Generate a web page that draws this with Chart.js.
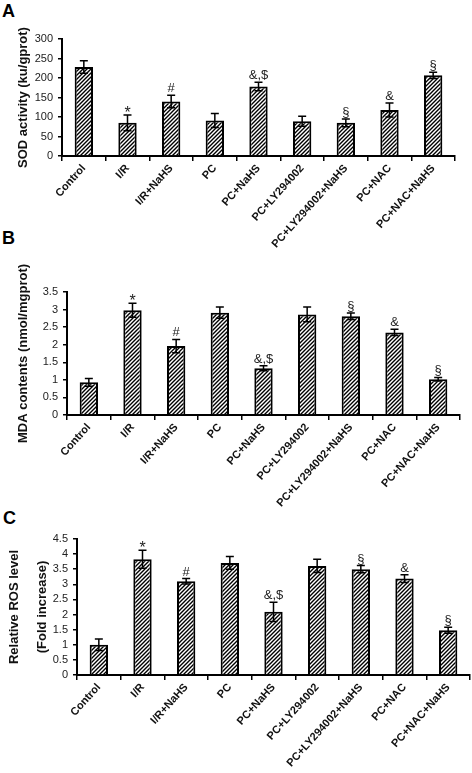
<!DOCTYPE html>
<html>
<head>
<meta charset="utf-8">
<script src="https://cdn.jsdelivr.net/npm/chart.js@4.4.1/dist/chart.umd.min.js"></script>
<style>
  html, body { margin: 0; padding: 0; background: #fff; }
  body { width: 472px; height: 773px; position: relative; overflow: hidden; font-family: "Liberation Sans", Arial, sans-serif; }
  .panel { position: absolute; left: 0; width: 472px; }
  .letter { position: absolute; font-weight: bold; font-size: 18px; line-height: 1; color: #000; }
</style>
</head>
<body>
<div class="letter" style="left:2px; top:2px;">A</div>
<div class="letter" style="left:2px; top:229px;">B</div>
<div class="letter" style="left:3px; top:509px;">C</div>
<div class="panel" style="top:0; height:255px;"><canvas id="cA"></canvas></div>
<div class="panel" style="top:255px; height:255px;"><canvas id="cB"></canvas></div>
<div class="panel" style="top:510px; height:263px;"><canvas id="cC"></canvas></div>
<script>
const categories = ["Control", "I/R", "I/R+NaHS", "PC", "PC+NaHS", "PC+LY294002", "PC+LY294002+NaHS", "PC+NAC", "PC+NAC+NaHS"];

const sodValues = [228, 85, 140, 91, 178, 89, 85, 118, 207];
const sodErrors = [16, 20, 16, 18, 11, 13, 10, 18, 8];
const sodMarks  = ["", "*", "#", "", "&,$", "", "§", "&", "§"];

const mdaValues = [0.93, 2.98, 1.96, 2.91, 1.33, 2.86, 2.81, 2.35, 1.02];
const mdaErrors = [0.11, 0.2, 0.19, 0.16, 0.07, 0.21, 0.09, 0.09, 0.05];
const mdaMarks  = ["", "*", "#", "", "&,$", "", "§", "&", "§"];

const rosValues = [1.0, 3.83, 3.1, 3.71, 2.09, 3.61, 3.5, 3.19, 1.48];
const rosErrors = [0.19, 0.3, 0.09, 0.21, 0.32, 0.22, 0.12, 0.13, 0.1];
const rosMarks  = ["", "*", "#", "", "&,$", "", "§", "&", "§"];

const FONT = "'Liberation Sans', Arial, sans-serif";

function makeHatch() {
  const s = 4;
  const c = document.createElement('canvas');
  c.width = s; c.height = s;
  const g = c.getContext('2d');
  g.fillStyle = '#fff';
  g.fillRect(0, 0, s, s);
  g.strokeStyle = '#000';
  g.lineWidth = 1.4;
  g.beginPath();
  g.moveTo(-1, s + 1); g.lineTo(s + 1, -1);
  g.moveTo(-1, 1); g.lineTo(1, -1);
  g.moveTo(s - 1, s + 1); g.lineTo(s + 1, s - 1);
  g.stroke();
  return g.createPattern(c, 'repeat');
}
const hatch = makeHatch();

const errPlugin = {
  id: 'errbars',
  afterDatasetsDraw(chart, args, opts) {
    const ctx = chart.ctx;
    const meta = chart.getDatasetMeta(0);
    const ys = chart.scales.y;
    const vals = chart.data.datasets[0].data;
    ctx.save();
    ctx.strokeStyle = '#000';
    ctx.lineWidth = 1.5;
    meta.data.forEach((bar, i) => {
      const v = vals[i], e = opts.errors[i];
      const x = bar.x;
      const yt = ys.getPixelForValue(v + e);
      const yb = ys.getPixelForValue(v - e);
      const cap = 4;
      ctx.beginPath();
      ctx.moveTo(x, yt); ctx.lineTo(x, yb);
      ctx.moveTo(x - cap, yt); ctx.lineTo(x + cap, yt);
      ctx.moveTo(x - cap, yb); ctx.lineTo(x + cap, yb);
      ctx.stroke();
      const m = opts.marks[i];
      if (m) {
        ctx.fillStyle = '#222';
        ctx.textAlign = 'center';
        ctx.textBaseline = 'alphabetic';
        ctx.font = (m === '*' ? '16px ' : '13px ') + FONT;
        ctx.fillText(m, x, yt - (m === '*' ? -3 : 3));
      }
    });
    ctx.restore();
  }
};

function makeChart(id, values, errors, marks, cfg) {
  return new Chart(document.getElementById(id), {
    type: 'bar',
    data: {
      labels: categories,
      datasets: [{
        data: values,
        backgroundColor: hatch,
        borderColor: '#000',
        borderWidth: 2,
        borderSkipped: 'bottom',
        barPercentage: 0.42,
        categoryPercentage: 1.0
      }]
    },
    options: {
      responsive: true,
      maintainAspectRatio: false,
      animation: false,
      events: [],
      layout: { padding: { top: cfg.padTop, right: cfg.padRight, left: 0, bottom: 0 } },
      plugins: {
        legend: { display: false },
        tooltip: { enabled: false },
        errbars: { errors: errors, marks: marks }
      },
      scales: {
        x: {
          offset: true,
          grid: { display: true, drawOnChartArea: false, drawTicks: true, tickLength: 5, color: '#000', lineWidth: 1.5, offset: true },
          border: { display: true, color: '#000', width: 2 },
          ticks: {
            autoSkip: false, minRotation: 48, maxRotation: 48, padding: 1,
            color: '#111', font: { family: FONT, size: 11, weight: 'bold' }
          },
          afterFit(scale) { scale.height = cfg.xHeight; }
        },
        y: {
          min: 0, max: cfg.max,
          grid: { display: true, drawOnChartArea: false, drawTicks: true, tickLength: 4, color: '#000', lineWidth: 1.5 },
          border: { display: true, color: '#000', width: 2 },
          ticks: {
            stepSize: cfg.step, autoSkip: false, padding: 5, color: '#222',
            font: { family: FONT, size: 11 },
            callback: (v) => String(Math.round(v * 100) / 100)
          },
          title: {
            display: true, text: cfg.title, color: '#111',
            font: { family: FONT, size: 13, weight: 'bold', lineHeight: cfg.titleLH || 1.2 },
            padding: { top: cfg.titlePad, bottom: 0 }
          },
          afterFit(scale) { scale.width = cfg.yWidth; }
        }
      }
    },
    plugins: [errPlugin]
  });
}

makeChart('cA', sodValues, sodErrors, sodMarks, {
  padTop: 39, padRight: 17, xHeight: 99, yWidth: 62, max: 300, step: 50,
  title: 'SOD activity (ku/gprot)', titlePad: 16
});
makeChart('cB', mdaValues, mdaErrors, mdaMarks, {
  padTop: 37, padRight: 12, xHeight: 95, yWidth: 67, max: 3.5, step: 0.5,
  title: 'MDA contents (nmol/mgprot)', titlePad: 16
});
makeChart('cC', rosValues, rosErrors, rosMarks, {
  padTop: 29, padRight: 2, xHeight: 98, yWidth: 77, max: 4.5, step: 0.5,
  title: ['Relative ROS level', '(Fold increase)'], titlePad: 0, titleLH: '28px'
});
</script>
</body>
</html>
